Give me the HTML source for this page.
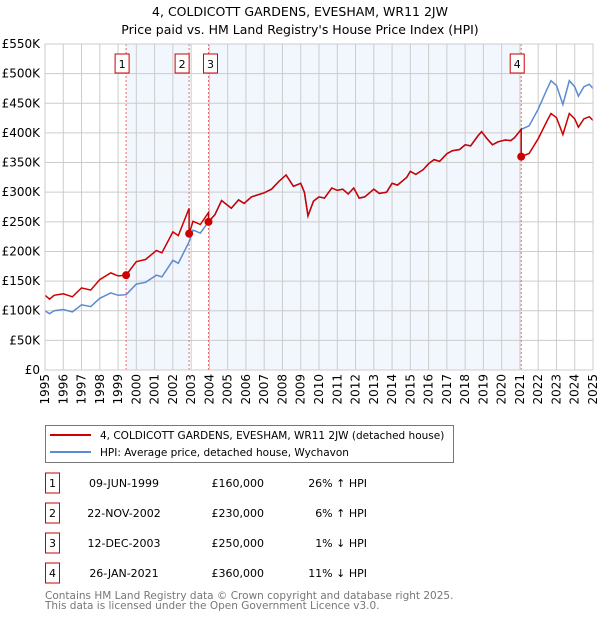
<!DOCTYPE html>
<html><head><meta charset="utf-8"><style>
body{margin:0;background:#fff;font-family:"Liberation Sans","DejaVu Sans",sans-serif}
svg text{font-family:"DejaVu Sans","Liberation Sans",sans-serif}
</style></head><body>
<svg id="c" width="600" height="620" xmlns="http://www.w3.org/2000/svg">
<text x="300" y="16" text-anchor="middle" font-size="12.5" fill="#000">4, COLDICOTT GARDENS, EVESHAM, WR11 2JW</text>
<text x="300" y="34" text-anchor="middle" font-size="12.5" fill="#000">Price paid vs. HM Land Registry's House Price Index (HPI)</text>
<g id="plot"></g>
<g>
<rect x="45.5" y="425.5" width="408" height="37" fill="#fff" stroke="#777"/>
<line x1="50" y1="435" x2="91" y2="435" stroke="#cc0000" stroke-width="2"/>
<text x="100" y="439" font-size="10.5">4, COLDICOTT GARDENS, EVESHAM, WR11 2JW (detached house)</text>
<line x1="50" y1="452" x2="91" y2="452" stroke="#5b8bd0" stroke-width="2"/>
<text x="100" y="456" font-size="10.5">HPI: Average price, detached house, Wychavon</text>
</g>
<g id="table"></g>
<text x="45" y="599" font-size="10.5" fill="#777">Contains HM Land Registry data © Crown copyright and database right 2025.</text>
<text x="45" y="609" font-size="10.5" fill="#777">This data is licensed under the Open Government Licence v3.0.</text>
</svg>
<script>
const hpiYears=[1995,1995.25,1995.5,1996,1996.5,1997,1997.5,1998,1998.6,1999,1999.44,2000,2000.5,2001.1,2001.4,2002,2002.3,2002.9,2003.1,2003.5,2003.95,2004.3,2004.67,2005.2,2005.6,2005.9,2006.3,2007,2007.4,2007.8,2008.2,2008.6,2009,2009.2,2009.4,2009.7,2010,2010.3,2010.7,2011,2011.3,2011.6,2011.9,2012.2,2012.5,2013,2013.3,2013.7,2014,2014.3,2014.8,2015,2015.3,2015.7,2016,2016.3,2016.6,2017,2017.3,2017.7,2018,2018.3,2018.7,2018.9,2019.2,2019.5,2019.8,2020.2,2020.5,2020.7,2021.07,2021.5,2022,2022.5,2022.7,2023,2023.35,2023.7,2024,2024.2,2024.5,2024.8,2025];
const hpiValues=[100,95,100,102,98,110,107,121,130,126,127,145,148,160,157,185,180,217,236,231,250,262,286,273,287,281,292,299,305,318,329,310,315,300,260,285,292,290,307,303,305,297,307,290,292,305,298,300,315,312,325,335,330,338,348,355,352,365,370,372,380,378,395,402,390,380,385,388,387,392,406,412,440,475,488,480,448,488,478,462,478,482,475];
const saleLabels=["1","2","3","4"];
const saleYears=[1999.44,2002.89,2003.95,2021.07];
const salePrices=[160,230,250,360];
const saleDates=["09-JUN-1999","22-NOV-2002","12-DEC-2003","26-JAN-2021"];
const salePriceText=["£160,000","£230,000","£250,000","£360,000"];
const saleHpiText=["26% ↑ HPI","6% ↑ HPI","1% ↓ HPI","11% ↓ HPI"];
const yTicks=[0,50,100,150,200,250,300,350,400,450,500,550];
const yTickLabels=["£0","£50K","£100K","£150K","£200K","£250K","£300K","£350K","£400K","£450K","£500K","£550K"];
const xTicks=[1995,1996,1997,1998,1999,2000,2001,2002,2003,2004,2005,2006,2007,2008,2009,2010,2011,2012,2013,2014,2015,2016,2017,2018,2019,2020,2021,2022,2023,2024,2025];

const NS="http://www.w3.org/2000/svg";
const X0=45,X1=593,Y0=370,Y1=44;
const xs=t=>X0+(t-1995)/30*(X1-X0);
const ys=v=>Y0-v/550*(Y0-Y1);
const plot=document.getElementById('plot');
function mk(tag,attrs,parent){const e=document.createElementNS(NS,tag);for(const k in attrs)e.setAttribute(k,attrs[k]);(parent||plot).appendChild(e);return e;}
function hpiAt(t){for(let i=1;i<hpiYears.length;i++){if(t<=hpiYears[i]){const f=(t-hpiYears[i-1])/(hpiYears[i]-hpiYears[i-1]);return hpiValues[i-1]+f*(hpiValues[i]-hpiValues[i-1]);}}return hpiValues[hpiValues.length-1];}

[[0,1],[2,3]].forEach(p=>{
 const r=mk('rect',{x:xs(saleYears[p[0]]),y:Y1,width:xs(saleYears[p[1]])-xs(saleYears[p[0]]),height:Y0-Y1,fill:'#f2f6fd'});
 
 
});
yTicks.forEach((v,i)=>{
 const l=mk('line',{x1:X0,x2:X1,y1:ys(v),y2:ys(v),stroke:'#ccc','stroke-width':1});
 
 
 const t=mk('text',{x:X0-5,y:ys(v)+4,'text-anchor':'end','font-size':12});
 t.textContent=yTickLabels[i];
 
 
});
xTicks.forEach(yr=>{
 const l=mk('line',{x1:xs(yr),x2:xs(yr),y1:Y1,y2:Y0,stroke:'#ccc','stroke-width':1});
 
 
 const t=mk('text',{x:0,y:0,'text-anchor':'end','font-size':12,transform:`translate(${xs(yr)+4},${Y0+4}) rotate(-90)`});
 t.textContent=yr;
 
 
});
saleYears.forEach((yr,i)=>{
 const l=mk('line',{x1:xs(yr),x2:xs(yr),y1:Y1,y2:Y0,stroke:'#e66','stroke-width':1,'stroke-dasharray':'2,2'});
 
 
 const bx=(i===1)?xs(yr)-14:((i===2)?xs(yr)-5:xs(yr)-11);
 const r=mk('rect',{x:bx,y:54,width:14,height:19,fill:'#fff',stroke:'#c00','stroke-width':1});
 
 
 const t=mk('text',{x:bx+7,y:68,'text-anchor':'middle','font-size':11});
 t.textContent=saleLabels[i];
 
 
});
const hpiPts=hpiYears.map((t,i)=>xs(t).toFixed(1)+','+ys(hpiValues[i]).toFixed(1)).join(' ');
const hp=mk('polyline',{points:hpiPts,fill:'none',stroke:'#5b8bd0','stroke-width':1.5});


const segYears=[...new Set([...hpiYears,...saleYears])].sort((a,b)=>a-b);
let redPts=[];
segYears.forEach(t=>{
 let k=0;for(let i=0;i<saleYears.length;i++)if(t>=saleYears[i])k=i;
 if(saleYears.includes(t)&&saleYears.indexOf(t)>0){const p=saleYears.indexOf(t)-1;redPts.push([t,hpiAt(t)*salePrices[p]/hpiAt(saleYears[p])]);}
 redPts.push([t,hpiAt(t)*salePrices[k]/hpiAt(saleYears[k])]);
});
const rp=mk('polyline',{points:redPts.map(p=>xs(p[0]).toFixed(1)+','+ys(p[1]).toFixed(1)).join(' '),fill:'none',stroke:'#cc0000','stroke-width':1.5});


saleYears.forEach((yr,i)=>{
 const c=mk('circle',{cx:xs(yr),cy:ys(salePrices[i]),r:4,fill:'#cc0000'});
 
 
});
const fr=mk('rect',{x:X0,y:Y1,width:X1-X0,height:Y0-Y1,fill:'none',stroke:'#ccc'});


const tb=document.getElementById('table');
saleLabels.forEach((lab,i)=>{
 const cy=483+i*30;
 const r=mk('rect',{x:45.5,y:cy-10,width:14,height:20,fill:'#fff',stroke:'#c00'},tb);
 
 
 const cells=[[52.5,'middle',lab,'table-row-number'],[124,'middle',saleDates[i],'table-date'],[264,'end',salePriceText[i],'table-price'],[367,'end',saleHpiText[i],'table-hpi-diff']];
 cells.forEach(c=>{
  const t=mk('text',{x:c[0],y:cy+4,'text-anchor':c[1],'font-size':11},tb);
  t.textContent=c[2];
  
  
 });
});
</script>
</body></html>
